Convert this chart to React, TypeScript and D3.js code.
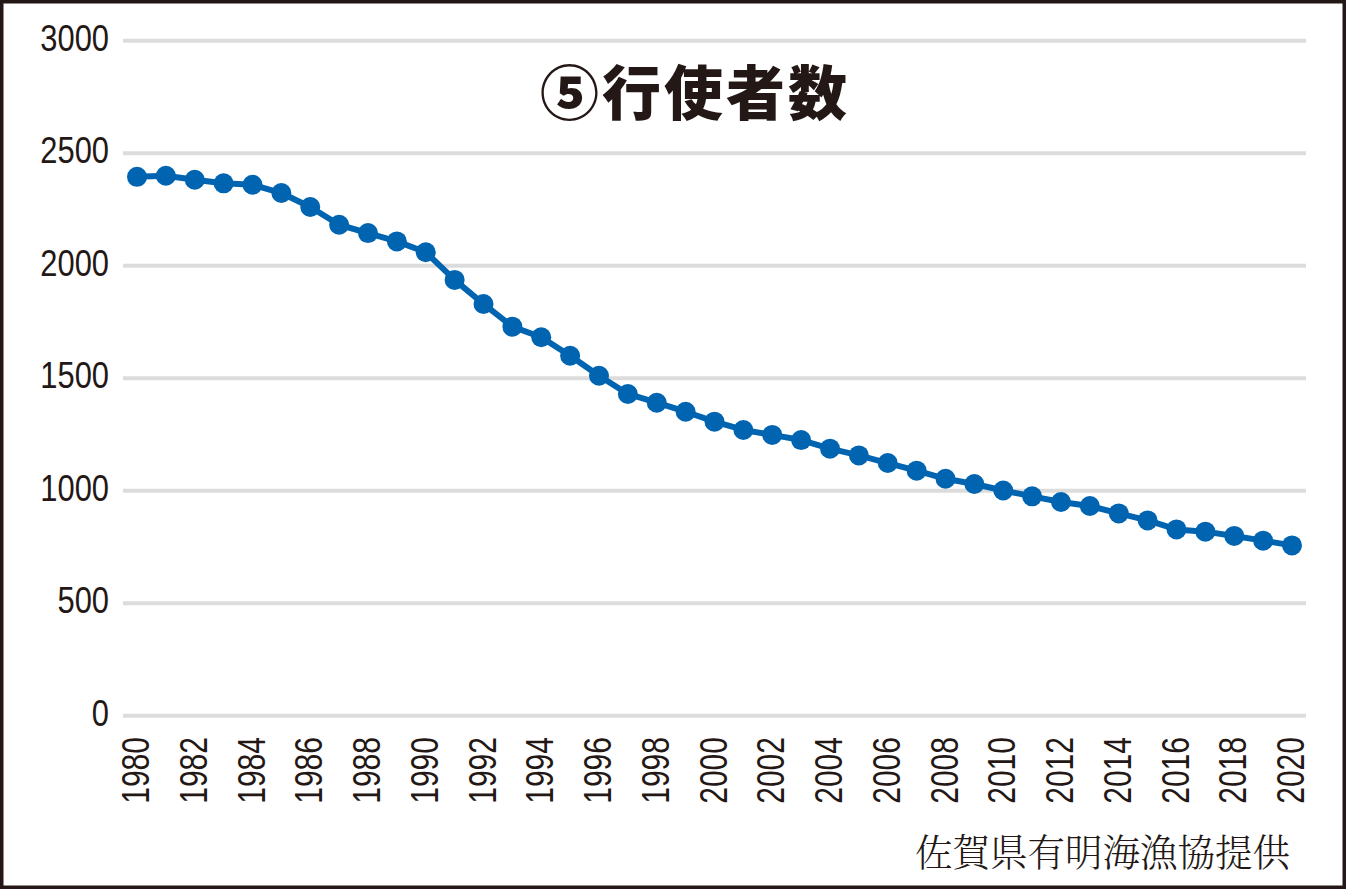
import React, {useRef, useEffect} from 'react'
import * as d3 from 'd3'

// 有明海漁協 行使者数 (1980-2020)
const years = [
  1980, 1981, 1982, 1983, 1984, 1985, 1986, 1987, 1988, 1989, 1990, 1991, 1992,
  1993, 1994, 1995, 1996, 1997, 1998, 1999, 2000, 2001, 2002, 2003, 2004, 2005,
  2006, 2007, 2008, 2009, 2010, 2011, 2012, 2013, 2014, 2015, 2016, 2017, 2018,
  2019, 2020,
]
const counts = [
  2395, 2400, 2382, 2366, 2360, 2323, 2261, 2182, 2145, 2108, 2060, 1937, 1830,
  1729, 1682, 1600, 1511, 1430, 1391, 1351, 1307, 1270, 1248, 1225, 1187, 1157,
  1123, 1089, 1053, 1030, 1001, 975, 950, 932, 899, 868, 828, 818, 799, 778, 757,
]
const yTicks = [0, 500, 1000, 1500, 2000, 2500, 3000]
const xTicks = [
  1980, 1982, 1984, 1986, 1988, 1990, 1992, 1994, 1996, 1998, 2000, 2002, 2004,
  2006, 2008, 2010, 2012, 2014, 2016, 2018, 2020,
]
const title = '⑤行使者数'
const source = '佐賀県有明海漁協提供'

const W = 1346
const H = 889
const ink = '#231815'
const blue = '#0064b1'

function App() {
  const ref: any = useRef<SVGSVGElement>(null)

  useEffect(() => {
    const svg = d3.select(ref.current)
    svg.selectAll('*').remove()

    const x = d3.scaleLinear().domain([1980, 2020]).range([137, 1292])
    const y = d3.scaleLinear().domain([0, 3000]).range([715.7, 40.7])

    // frame
    svg
      .append('rect')
      .attr('x', 1.75)
      .attr('y', 1.75)
      .attr('width', W - 3.5)
      .attr('height', H - 3.5)
      .attr('fill', '#fff')
      .attr('stroke', ink)
      .attr('stroke-width', 3.5)

    // grid
    svg
      .append('g')
      .selectAll('line')
      .data(yTicks)
      .join('line')
      .attr('x1', 123)
      .attr('x2', 1306)
      .attr('y1', d => y(d))
      .attr('y2', d => y(d))
      .attr('stroke', '#dcdcdc')
      .attr('stroke-width', 4)

    // y labels
    svg
      .append('g')
      .selectAll('text')
      .data(yTicks)
      .join('text')
      .attr('transform', d => `translate(109,${y(d) + 10}) scale(0.835,1)`)
      .attr('text-anchor', 'end')
      .attr('font-family', "'Liberation Sans', Arial, sans-serif")
      .attr('font-size', 37)
      .attr('fill', ink)
      .text(d => d)

    // x labels (rotated)
    svg
      .append('g')
      .selectAll('text')
      .data(xTicks)
      .join('text')
      .attr('transform', d => `translate(${x(d)},737) rotate(-90) scale(0.78,1)`)
      .attr('y', 12)
      .attr('text-anchor', 'end')
      .attr('font-family', "'Liberation Sans', Arial, sans-serif")
      .attr('font-size', 38.5)
      .attr('fill', ink)
      .text(d => d)

    const points = years.map((yr, i) => ({year: yr, value: counts[i]}))

    const line = d3
      .line<any>()
      .x(d => x(d.year))
      .y(d => y(d.value))

    svg
      .append('path')
      .datum(points)
      .attr('d', line)
      .attr('fill', 'none')
      .attr('stroke', blue)
      .attr('stroke-width', 6)
      .attr('stroke-linejoin', 'round')

    svg
      .append('g')
      .selectAll('circle')
      .data(points)
      .join('circle')
      .attr('cx', d => x(d.year))
      .attr('cy', d => y(d.value))
      .attr('r', 10)
      .attr('fill', blue)

    // title
    svg
      .append('text')
      .attr('x', 695)
      .attr('y', 115)
      .attr('text-anchor', 'middle')
      .attr('font-family', "'Noto Sans CJK JP', sans-serif")
      .attr('font-weight', 900)
      .attr('font-size', 59)
      .attr('letter-spacing', 3)
      .attr('fill', ink)
      .text(title)

    // source note
    svg
      .append('text')
      .attr('x', 1290)
      .attr('y', 866)
      .attr('text-anchor', 'end')
      .attr('font-family', "'Noto Serif CJK JP', 'Noto Sans CJK JP', serif")
      .attr('font-weight', 300)
      .attr('font-size', 37.5)
      .attr('fill', ink)
      .text(source)
  }, [])

  return (
    <svg
      ref={ref}
      width={W}
      height={H}
      style={{position: 'absolute', left: 0, top: 0, display: 'block'}}
    />
  )
}

export default App
